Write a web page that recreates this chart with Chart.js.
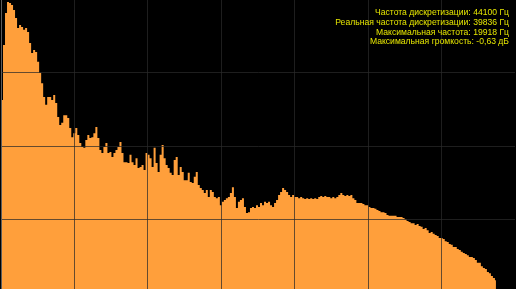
<!DOCTYPE html>
<html lang="ru">
<head>
<meta charset="utf-8">
<title>Спектр</title>
<script src="https://cdn.jsdelivr.net/npm/chart.js@4.4.1/dist/chart.umd.min.js"></script>
<style>
    html, body { margin: 0; padding: 0; background: #000; overflow: hidden; }
    #wrap { position: relative; width: 516px; height: 289px; overflow: hidden; background: #000; }
    #spectrum { position: absolute; left: 0; top: -1px; }
    #info {
        position: absolute; right: 7px; top: 8px;
        font: 8.6px "Liberation Sans", Arial, sans-serif;
        line-height: 9.8px; color: #e6e600; text-align: right; white-space: nowrap;
    }
</style>
</head>
<body>
<div id="wrap">
    <canvas id="spectrum" width="516" height="294"></canvas>
    <div id="info"></div>
</div>
<script>
const sampleRate = 44100;
const fftSize = 512;
const dbRange = [-80, 0];
const gridDb = [-60, -40, -20];
const gridHz = [3150, 6300, 9450, 12600, 15750, 18900];

const infoLabels = ['Частота дискретизации:', 'Реальная частота дискретизации:', 'Максимальная частота:', 'Максимальная громкость:'];
const infoValues = ['44100 Гц', '39836 Гц', '19918 Гц', '-0,63 дБ'];

// level of each FFT bin, dB (bin 0 .. 246)
const levelsDb = [
    -27.5, -12.5, -3.8, -0.8, -1.1, -1.6, -3.0, -5.2, -7.9, -7.1,
    -7.6, -8.4, -7.9, -9.0, -12.0, -14.7, -13.9, -14.4, -17.1, -20.1,
    -22.9, -26.7, -28.8, -26.7, -26.7, -27.5, -26.1, -28.3, -32.1, -34.3,
    -33.7, -31.6, -31.6, -32.4, -35.1, -37.6, -36.5, -35.1, -37.0, -39.2,
    -40.3, -40.5, -38.4, -37.0, -37.8, -37.6, -36.5, -34.8, -37.8, -41.1,
    -41.9, -40.3, -39.2, -41.9, -41.6, -43.0, -41.9, -41.1, -40.3, -38.9,
    -41.9, -44.4, -44.4, -44.6, -42.4, -44.4, -45.2, -43.3, -46.0, -45.7,
    -45.2, -46.5, -41.9, -42.4, -43.3, -45.7, -40.5, -44.6, -47.1, -42.4,
    -39.7, -43.3, -45.2, -46.0, -47.3, -47.9, -43.8, -43.0, -47.9, -45.7,
    -47.1, -49.3, -49.3, -47.3, -49.8, -50.1, -48.4, -47.1, -50.6, -51.4,
    -52.0, -52.8, -52.0, -53.9, -52.0, -52.5, -53.9, -54.2, -53.9, -56.1,
    -55.2, -54.7, -54.2, -53.9, -52.8, -51.2, -53.9, -56.9, -55.2, -54.7,
    -54.2, -56.6, -58.2, -58.0, -56.9, -56.6, -56.9, -56.1, -56.6, -55.5,
    -56.1, -55.2, -55.5, -55.2, -56.1, -56.6, -55.5, -54.7, -53.3, -52.5,
    -51.4, -52.0, -52.5, -53.3, -53.9, -53.3, -53.9, -53.9, -54.2, -53.9,
    -54.2, -54.4, -54.2, -54.4, -54.2, -54.4, -54.2, -54.4, -53.9, -53.6,
    -53.9, -53.6, -53.9, -53.9, -54.2, -53.9, -54.2, -53.9, -53.3, -52.8,
    -53.3, -53.6, -53.3, -53.6, -53.3, -54.2, -54.7, -55.5, -55.5, -55.5,
    -55.8, -56.1, -56.1, -56.6, -56.9, -56.9, -57.1, -57.4, -57.7, -58.0,
    -58.0, -58.2, -58.8, -59.0, -59.0, -59.0, -59.0, -59.3, -59.3, -59.3,
    -59.6, -59.9, -60.4, -60.7, -61.0, -61.0, -61.5, -61.2, -61.8, -62.0,
    -62.6, -62.3, -62.9, -63.7, -63.4, -63.9, -64.2, -64.5, -65.0, -65.0,
    -65.3, -65.9, -66.1, -66.7, -66.9, -67.5, -67.5, -68.0, -68.3, -68.8,
    -69.1, -69.4, -69.7, -70.2, -70.2, -70.5, -71.0, -71.8, -71.8, -72.7,
    -73.2, -73.5, -74.3, -74.6, -75.4, -75.9, -76.5
];

const nyquist = sampleRate / 2;
const binHz = sampleRate / fftSize;
const gridColor = 'rgba(42, 42, 42, 0.72)';

const info = document.getElementById('info');
infoLabels.forEach((label, i) => {
    const line = document.createElement('div');
    line.textContent = label + ' ' + infoValues[i];
    info.appendChild(line);
});

const points = levelsDb.map((db, i) => ({ x: (i + 0.5) * binHz, y: db }));

new Chart(document.getElementById('spectrum'), {
    type: 'line',
    data: {
        datasets: [{
            data: points,
            fill: 'start',
            backgroundColor: '#ff9f3b',
            borderColor: 'rgba(0, 0, 0, 0)',
            borderWidth: 0,
            pointRadius: 0,
            stepped: 'middle'
        }]
    },
    options: {
        responsive: false,
        animation: false,
        layout: { padding: { left: 1, right: 1, top: 0, bottom: 0 } },
        plugins: { legend: { display: false }, tooltip: { enabled: false } },
        scales: {
            x: {
                type: 'linear', min: 0, max: nyquist,
                afterBuildTicks: scale => { scale.ticks = gridHz.map(v => ({ value: v })); },
                ticks: { display: false },
                grid: { color: gridColor, drawTicks: false, tickLength: 0, z: 1 },
                border: { display: false }
            },
            y: {
                min: dbRange[0], max: dbRange[1],
                afterBuildTicks: scale => { scale.ticks = gridDb.map(v => ({ value: v })); },
                ticks: { display: false },
                grid: { color: gridColor, drawTicks: false, tickLength: 0, z: 1 },
                border: { display: true, color: '#5c5c5c', width: 1, z: 1 }
            }
        }
    }
});
</script>
</body>
</html>
